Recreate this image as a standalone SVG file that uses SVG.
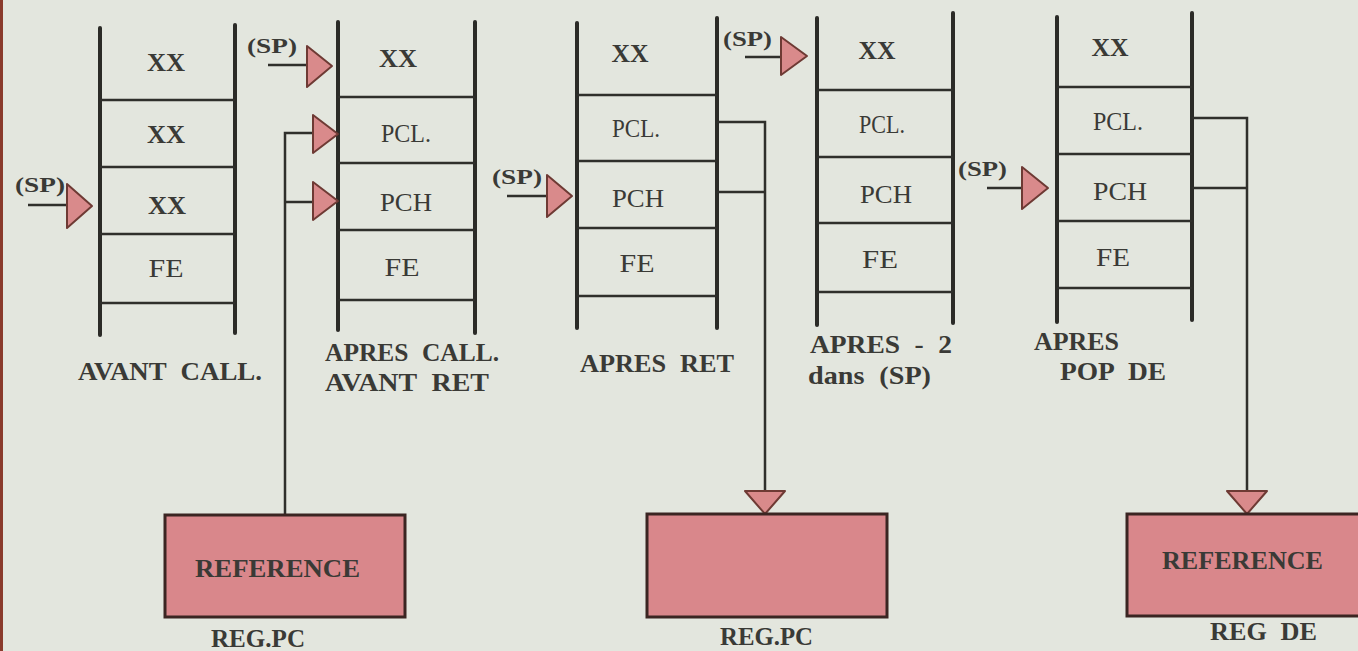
<svg xmlns="http://www.w3.org/2000/svg" width="1358" height="651" viewBox="0 0 1358 651">
<style>
.bg{fill:#e3e6de}
.rail{stroke:#2b2b27;stroke-width:4;stroke-linecap:round}
.cell{stroke:#2f2f2b;stroke-width:2.5}
.conn{stroke:#2f2f2b;stroke-width:2.5;fill:none}
.tri{fill:#d98a8b;stroke:#6e3a34;stroke-width:2;stroke-linejoin:round}
.box{fill:#d9878b;stroke:#3b2522;stroke-width:3}
text{font-family:"Liberation Serif","Times New Roman",serif;fill:#3a3a36}
.c{font-size:25px;text-anchor:middle}
.b{font-weight:bold}
.lab{font-size:25px;font-weight:bold;word-spacing:7px}
.sp{font-size:22px;font-weight:bold}
</style>
<rect class="bg" x="0" y="0" width="1358" height="651"/>
<rect x="0" y="0" width="3" height="651" fill="#8a3b2c"/>

<g id="stack-avant-call">
<line class="rail" x1="100" y1="28" x2="100" y2="335"/>
<line class="rail" x1="235" y1="25" x2="235" y2="333"/>
<line class="cell" x1="100" y1="100" x2="235" y2="100"/>
<line class="cell" x1="100" y1="167" x2="235" y2="167"/>
<line class="cell" x1="100" y1="234" x2="235" y2="234"/>
<line class="cell" x1="100" y1="303" x2="235" y2="303"/>
<text class="c b" x="166" y="71" textLength="38" lengthAdjust="spacingAndGlyphs">XX</text>
<text class="c b" x="166" y="143" textLength="38" lengthAdjust="spacingAndGlyphs">XX</text>
<text class="c b" x="167" y="214" textLength="38" lengthAdjust="spacingAndGlyphs">XX</text>
<text class="c" x="166" y="277" textLength="35" lengthAdjust="spacingAndGlyphs">FE</text>
<text class="lab" x="78" y="380" textLength="184" lengthAdjust="spacingAndGlyphs">AVANT CALL.</text>
</g>

<g id="stack-apres-call">
<line class="rail" x1="338" y1="22" x2="338" y2="330"/>
<line class="rail" x1="475" y1="22" x2="475" y2="333"/>
<line class="cell" x1="338" y1="97" x2="475" y2="97"/>
<line class="cell" x1="338" y1="163" x2="475" y2="163"/>
<line class="cell" x1="338" y1="230" x2="475" y2="230"/>
<line class="cell" x1="338" y1="300" x2="475" y2="300"/>
<text class="c b" x="398" y="67" textLength="38" lengthAdjust="spacingAndGlyphs">XX</text>
<text class="c" x="406" y="142" textLength="50" lengthAdjust="spacingAndGlyphs">PCL.</text>
<text class="c" x="406" y="211" textLength="52" lengthAdjust="spacingAndGlyphs">PCH</text>
<text class="c" x="402" y="276" textLength="35" lengthAdjust="spacingAndGlyphs">FE</text>
<text class="lab" x="325" y="361" textLength="174" lengthAdjust="spacingAndGlyphs">APRES CALL.</text>
<text class="lab" x="325" y="391" textLength="164" lengthAdjust="spacingAndGlyphs">AVANT RET</text>
</g>

<g id="stack-apres-ret">
<line class="rail" x1="577" y1="23" x2="577" y2="328"/>
<line class="rail" x1="717" y1="18" x2="717" y2="328"/>
<line class="cell" x1="577" y1="95" x2="717" y2="95"/>
<line class="cell" x1="577" y1="161" x2="717" y2="161"/>
<line class="cell" x1="577" y1="228" x2="717" y2="228"/>
<line class="cell" x1="577" y1="296" x2="717" y2="296"/>
<text class="c b" x="630" y="62" textLength="37" lengthAdjust="spacingAndGlyphs">XX</text>
<text class="c" x="636" y="137" textLength="48" lengthAdjust="spacingAndGlyphs">PCL.</text>
<text class="c" x="638" y="207" textLength="52" lengthAdjust="spacingAndGlyphs">PCH</text>
<text class="c" x="637" y="272" textLength="35" lengthAdjust="spacingAndGlyphs">FE</text>
<text class="lab" x="580" y="372" textLength="154" lengthAdjust="spacingAndGlyphs">APRES RET</text>
</g>

<g id="stack-apres-moins-2">
<line class="rail" x1="817" y1="18" x2="817" y2="325"/>
<line class="rail" x1="953" y1="13" x2="953" y2="323"/>
<line class="cell" x1="817" y1="90" x2="953" y2="90"/>
<line class="cell" x1="817" y1="157" x2="953" y2="157"/>
<line class="cell" x1="817" y1="223" x2="953" y2="223"/>
<line class="cell" x1="817" y1="292" x2="953" y2="292"/>
<text class="c b" x="877" y="59" textLength="37" lengthAdjust="spacingAndGlyphs">XX</text>
<text class="c" x="882" y="133" textLength="46" lengthAdjust="spacingAndGlyphs">PCL.</text>
<text class="c" x="886" y="203" textLength="52" lengthAdjust="spacingAndGlyphs">PCH</text>
<text class="c" x="880" y="268" textLength="36" lengthAdjust="spacingAndGlyphs">FE</text>
<text class="lab" x="810" y="353" textLength="142" lengthAdjust="spacingAndGlyphs">APRES - 2</text>
<text class="lab" x="808" y="384" textLength="123" lengthAdjust="spacingAndGlyphs">dans (SP)</text>
</g>

<g id="stack-apres-pop-de">
<line class="rail" x1="1057" y1="17" x2="1057" y2="322"/>
<line class="rail" x1="1192" y1="13" x2="1192" y2="320"/>
<line class="cell" x1="1057" y1="87" x2="1192" y2="87"/>
<line class="cell" x1="1057" y1="154" x2="1192" y2="154"/>
<line class="cell" x1="1057" y1="221" x2="1192" y2="221"/>
<line class="cell" x1="1057" y1="288" x2="1192" y2="288"/>
<text class="c b" x="1110" y="56" textLength="37" lengthAdjust="spacingAndGlyphs">XX</text>
<text class="c" x="1118" y="130" textLength="50" lengthAdjust="spacingAndGlyphs">PCL.</text>
<text class="c" x="1120" y="200" textLength="54" lengthAdjust="spacingAndGlyphs">PCH</text>
<text class="c" x="1113" y="266" textLength="34" lengthAdjust="spacingAndGlyphs">FE</text>
<text class="lab" x="1034" y="350" textLength="85" lengthAdjust="spacingAndGlyphs">APRES</text>
<text class="lab" x="1060" y="380" textLength="106" lengthAdjust="spacingAndGlyphs">POP DE</text>
</g>

<g id="sp-pointers">
<text class="sp" x="15" y="192" textLength="50" lengthAdjust="spacingAndGlyphs">(SP)</text>
<line class="conn" x1="28" y1="205" x2="69" y2="205"/>
<polygon class="tri" points="67,184 92,206 67,228"/>
<text class="sp" x="247" y="53" textLength="50" lengthAdjust="spacingAndGlyphs">(SP)</text>
<line class="conn" x1="268" y1="65" x2="308" y2="65"/>
<polygon class="tri" points="307,46 332,66 307,87"/>
<text class="sp" x="492" y="184" textLength="50" lengthAdjust="spacingAndGlyphs">(SP)</text>
<line class="conn" x1="507" y1="196" x2="548" y2="196"/>
<polygon class="tri" points="547,175 572,196 547,217"/>
<text class="sp" x="723" y="46" textLength="49" lengthAdjust="spacingAndGlyphs">(SP)</text>
<line class="conn" x1="745" y1="57" x2="782" y2="57"/>
<polygon class="tri" points="781,37 807,56 781,75"/>
<text class="sp" x="958" y="176" textLength="49" lengthAdjust="spacingAndGlyphs">(SP)</text>
<line class="conn" x1="987" y1="188" x2="1023" y2="188"/>
<polygon class="tri" points="1022,167 1048,188 1022,209"/>
</g>

<g id="connectors">
<path class="conn" d="M285,515 V133 H314"/>
<path class="conn" d="M285,202 H314"/>
<polygon class="tri" points="313,115 338,134 313,153"/>
<polygon class="tri" points="313,182 338,201 313,220"/>
<path class="conn" d="M717,122 H765 V491"/>
<path class="conn" d="M717,192 H765"/>
<polygon class="tri" points="745,491 785,491 765,514"/>
<path class="conn" d="M1192,118 H1247 V491"/>
<path class="conn" d="M1192,188 H1247"/>
<polygon class="tri" points="1227,491 1267,491 1247,514"/>
</g>

<g id="reg-pc-1">
<rect class="box" x="165" y="515" width="240" height="102"/>
<text class="lab" x="195" y="577" textLength="165" lengthAdjust="spacingAndGlyphs">REFERENCE</text>
<text class="lab" x="211" y="647" textLength="94" lengthAdjust="spacingAndGlyphs">REG.PC</text>
</g>

<g id="reg-pc-2">
<rect class="box" x="647" y="514" width="240" height="103"/>
<text class="lab" x="720" y="645" textLength="93" lengthAdjust="spacingAndGlyphs">REG.PC</text>
</g>

<g id="reg-de">
<rect class="box" x="1127" y="514" width="234" height="102"/>
<text class="lab" x="1162" y="569" textLength="161" lengthAdjust="spacingAndGlyphs">REFERENCE</text>
<text class="lab" x="1210" y="640" textLength="107" lengthAdjust="spacingAndGlyphs">REG DE</text>
</g>
</svg>
